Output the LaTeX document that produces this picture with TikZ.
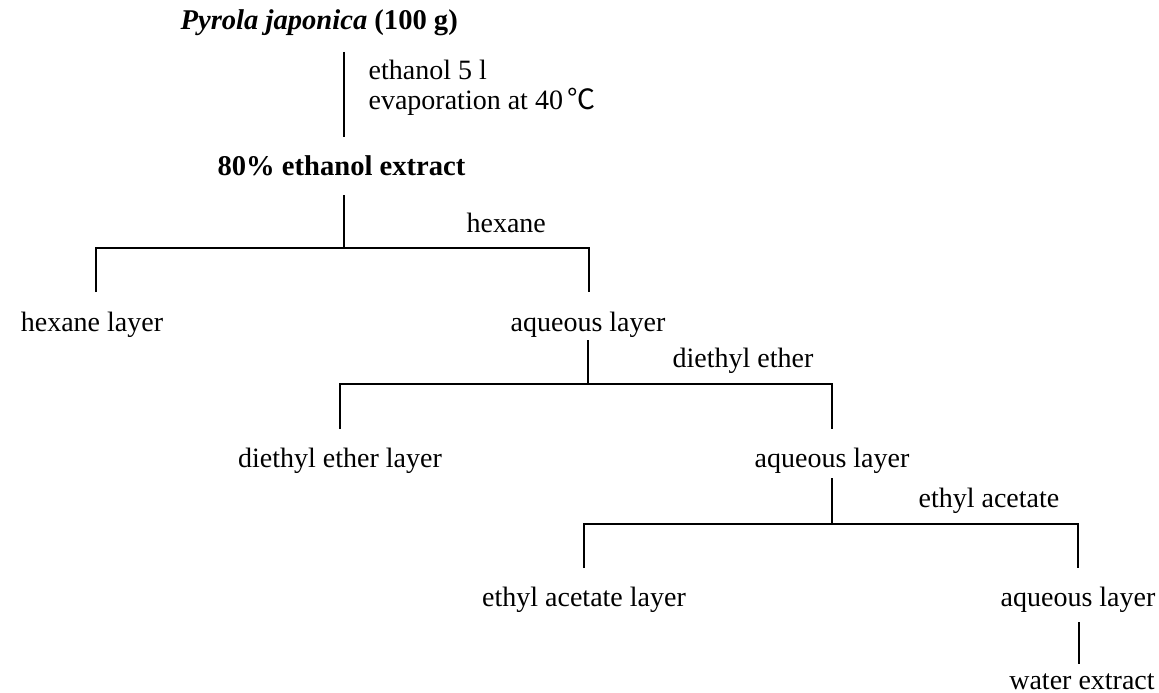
\documentclass[tikz,border=0pt]{standalone}
\usepackage{fontspec}
\setmainfont{Liberation Serif}
\newfontfamily\cjkfont{Noto Sans CJK SC}
\begin{document}
\begin{tikzpicture}[x=1pt,y=-1pt,line width=1.2pt,
  txt/.style={inner sep=0pt,font=\fontsize{28}{34}\selectfont},
  btxt/.style={inner sep=0pt,font=\fontsize{28.6}{34}\selectfont\bfseries},
  conn/.style={draw=black,line width=1.2pt}]
\useasboundingbox (0,0) rectangle (1159,693);
% texts
\node[btxt,anchor=base west] (title) at (180,30) {\textit{Pyrola japonica} (100 g)};
\node[txt,anchor=base west] (cond1) at (368,80) {ethanol 5 l};
\node[txt,anchor=base west] (cond2) at (368,110) {evaporation at 40\hspace{5pt}{\cjkfont ℃}};
\node[btxt,anchor=base west] (extract) at (217,175) {80\% ethanol extract};
\node[txt,anchor=base west] (hex) at (466,232) {hexane};
\node[txt,anchor=base] (hexl) at (92,331) {hexane layer};
\node[txt,anchor=base] (aq1) at (588,331) {aqueous layer};
\node[txt,anchor=base west] (dee) at (672,367) {diethyl ether};
\node[txt,anchor=base] (deel) at (340,467) {diethyl ether layer};
\node[txt,anchor=base] (aq2) at (832,467) {aqueous layer};
\node[txt,anchor=base west] (ea) at (918,507) {ethyl acetate};
\node[txt,anchor=base] (eal) at (584,606) {ethyl acetate layer};
\node[txt,anchor=base] (aq3) at (1078,606) {aqueous layer};
\node[txt,anchor=base] (water) at (1082,689) {water extract};
% connector points
\coordinate (t1) at (344,52);
\coordinate (t2) at (344,137);
\coordinate (e1) at (344,195);
\coordinate (b1) at (344,248);
\coordinate (d1l) at (96,292);
\coordinate (d1r) at (589,292);
\coordinate (a1) at (588,340);
\coordinate (b2) at (588,384);
\coordinate (d2l) at (340,429);
\coordinate (d2r) at (832,429);
\coordinate (a2) at (832,478);
\coordinate (b3) at (832,524);
\coordinate (d3l) at (584,568);
\coordinate (d3r) at (1078,568);
\coordinate (a3) at (1079,622);
\coordinate (w1) at (1079,664);
% connectors
\draw[conn] (t1) -- (t2);
\draw[conn] (e1) -- (b1);
\draw[conn] (d1l) -- (d1l |- b1) -- (d1r |- b1) -- (d1r);
\draw[conn] (a1) -- (b2);
\draw[conn] (d2l) -- (d2l |- b2) -- (d2r |- b2) -- (d2r);
\draw[conn] (a2) -- (b3);
\draw[conn] (d3l) -- (d3l |- b3) -- (d3r |- b3) -- (d3r);
\draw[conn] (a3) -- (w1);
\end{tikzpicture}
\end{document}
